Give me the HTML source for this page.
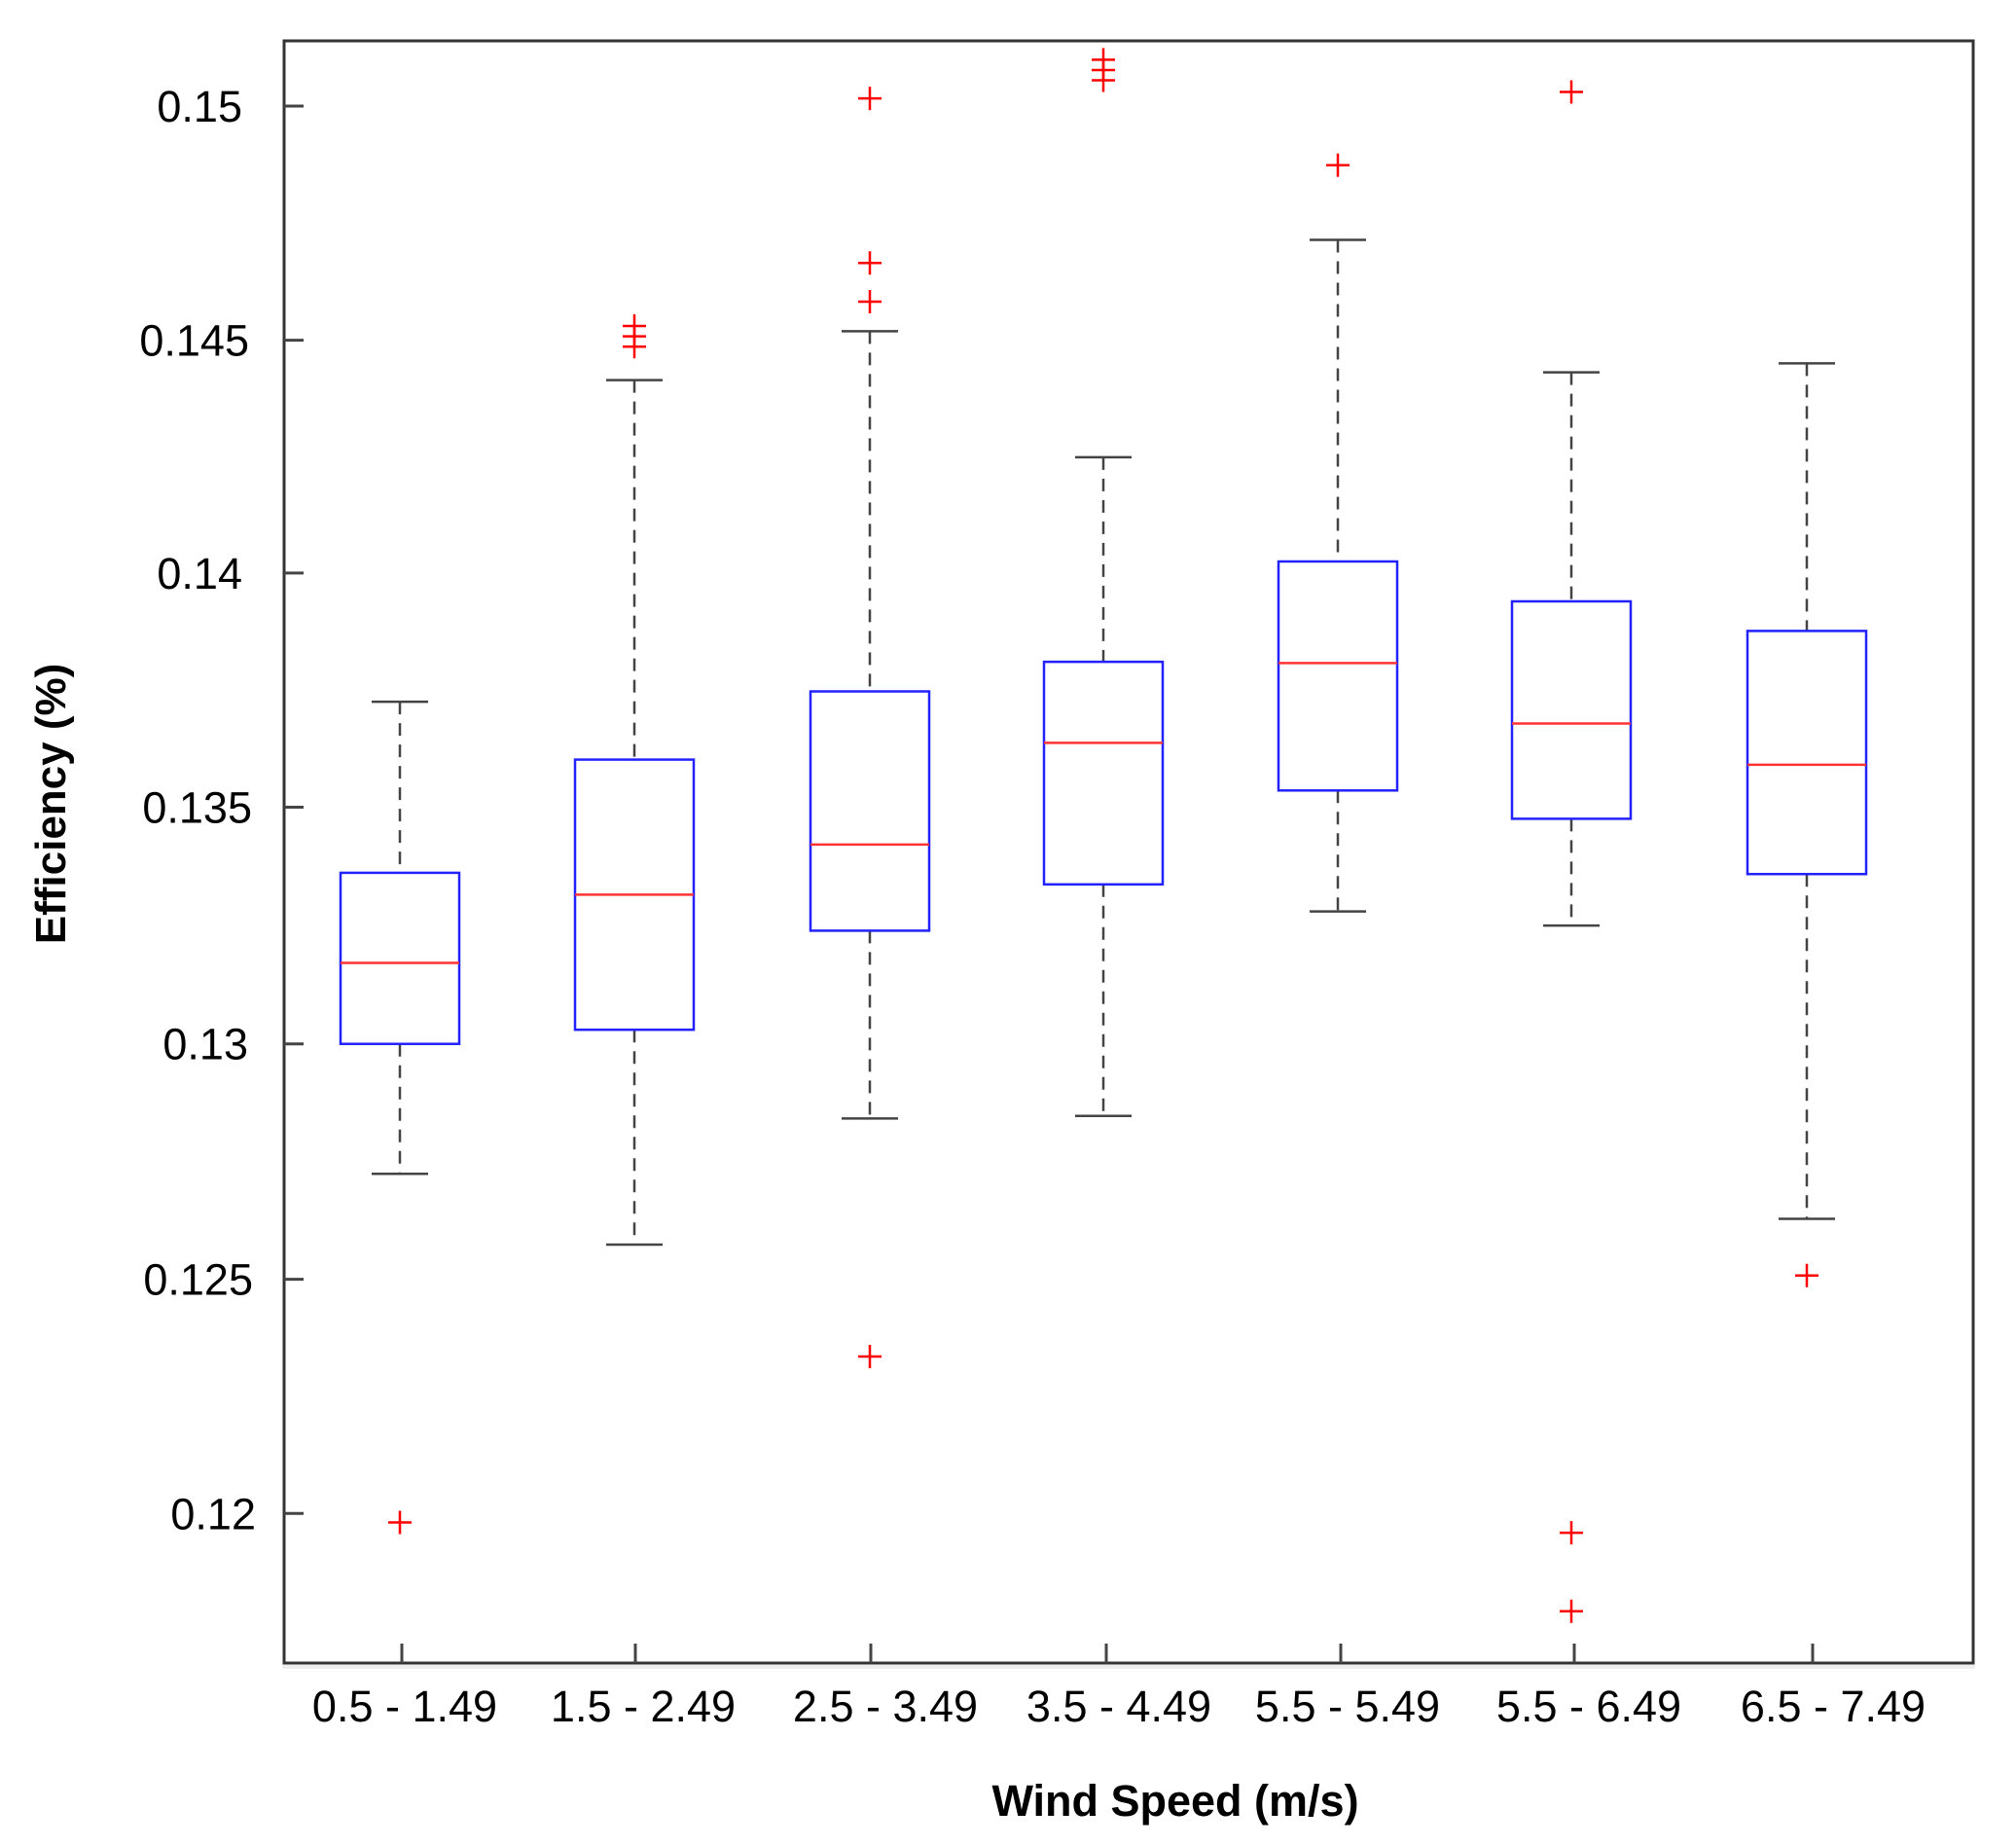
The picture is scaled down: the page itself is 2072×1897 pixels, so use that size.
<!DOCTYPE html>
<html><head><meta charset="utf-8"><style>
html,body{margin:0;padding:0;background:#fff;}
svg{display:block;}
</style></head><body>
<svg id="s" width="2072" height="1897" xmlns="http://www.w3.org/2000/svg" font-family="Liberation Sans, Arial, sans-serif">
<rect width="2072" height="1897" fill="#fff"/>
<rect x="292" y="42" width="1736" height="1667" fill="none" stroke="#333" stroke-width="3"/>
<line x1="290" y1="1713" x2="2030" y2="1713" stroke="#eee" stroke-width="4"/>
<g id="g"></g>
<text x="1208" y="1866" font-size="45" font-weight="bold" text-anchor="middle" fill="#000">Wind Speed (m/s)</text>
<text transform="translate(67,826) rotate(-90)" font-size="44" font-weight="bold" text-anchor="middle" fill="#000">Efficiency (%)</text>
</svg>
<script>
var g=document.getElementById('g'),h='';
function Y(yd){return 109+(yd-83)*1.322;}
var yt=[['0.15',83,249],['0.145',265,256],['0.14',446,249],['0.135',628,259],['0.13',812,255],['0.125',995,260],['0.12',1177,263]];
yt.forEach(function(t){var y=Y(t[1]);h+='<line x1="292" y1="'+y+'" x2="312" y2="'+y+'" stroke="#444" stroke-width="3"/>';
h+='<text x="'+t[2]+'" y="'+(y+16)+'" font-size="45" text-anchor="end" fill="#000">'+t[0]+'</text>';});
var xl=['0.5 - 1.49','1.5 - 2.49','2.5 - 3.49','3.5 - 4.49','5.5 - 5.49','5.5 - 6.49','6.5 - 7.49'];
var lx=[416,661,910,1150,1385,1633,1884];
var bx=[[546,679,749,812,913,[1184]],[296,591,696,801,968,[254,262,270]],[258,538,657,724,870,[77,205,235,1055]],[356,515,578,688,868,[47,55,63]],[187,437,516,615,709,[129]],[290,468,563,637,720,[72,1192,1253]],[283,491,595,680,948,[992]]];
var cx=[411,652,894,1134,1375,1615,1857];
var tx=[413,653,895,1137,1378,1618,1863];
for(var i=0;i<7;i++){var x=cx[i],b=bx[i];
h+='<line x1="'+tx[i]+'" y1="1709" x2="'+tx[i]+'" y2="1689" stroke="#444" stroke-width="3"/>';
h+='<text x="'+lx[i]+'" y="1769" font-size="45" text-anchor="middle" fill="#000">'+xl[i]+'</text>';
var uw=Y(b[0]),q3=Y(b[1]),md=Y(b[2]),q1=Y(b[3]),lw=Y(b[4]);
h+='<line x1="'+x+'" y1="'+uw+'" x2="'+x+'" y2="'+q3+'" stroke="#444" stroke-width="2.5" stroke-dasharray="13,9"/>';
h+='<line x1="'+x+'" y1="'+q1+'" x2="'+x+'" y2="'+lw+'" stroke="#444" stroke-width="2.5" stroke-dasharray="13,9"/>';
h+='<line x1="'+(x-29)+'" y1="'+uw+'" x2="'+(x+29)+'" y2="'+uw+'" stroke="#444" stroke-width="2.5"/>';
h+='<line x1="'+(x-29)+'" y1="'+lw+'" x2="'+(x+29)+'" y2="'+lw+'" stroke="#444" stroke-width="2.5"/>';
h+='<rect x="'+(x-61)+'" y="'+q3+'" width="122" height="'+(q1-q3)+'" fill="none" stroke="#22f" stroke-width="2.5"/>';
h+='<line x1="'+(x-61)+'" y1="'+md+'" x2="'+(x+61)+'" y2="'+md+'" stroke="#f33" stroke-width="2.5"/>';
b[5].forEach(function(o){var y=Y(o);h+='<path d="M'+(x-12)+' '+y+'H'+(x+12)+'M'+x+' '+(y-12)+'V'+(y+12)+'" stroke="#f00" stroke-width="2.5"/>';});
}
g.innerHTML=h;
</script>
</body></html>
